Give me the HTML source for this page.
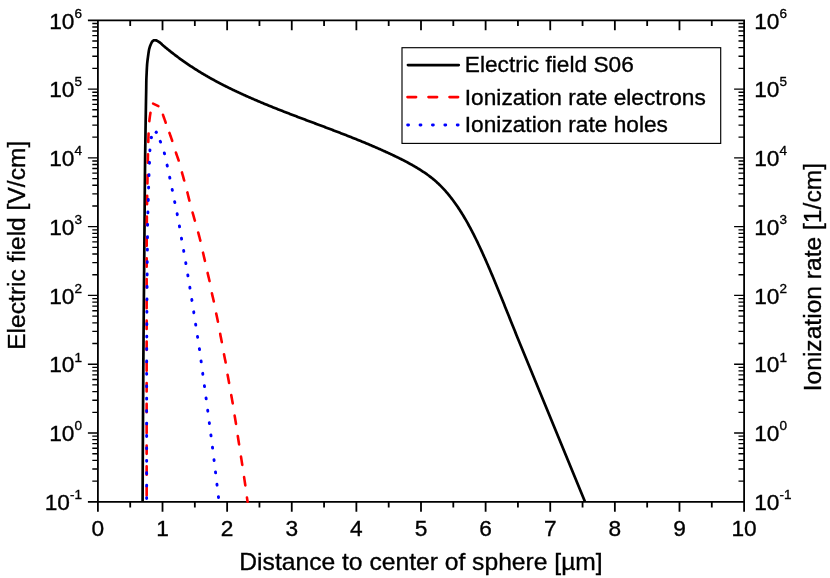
<!DOCTYPE html>
<html><head><meta charset="utf-8"><title>chart</title>
<style>html,body{margin:0;padding:0;background:#fff}svg{display:block}text{font-family:"Liberation Sans",sans-serif;fill:#000}</style>
</head><body>
<svg width="830" height="578" viewBox="0 0 830 578" style="will-change:transform">
<rect width="830" height="578" fill="#fff"/>
<path d="M87.9,20.3 H745.0 M87.9,501.8 H745.0 M97.9,19.400000000000002 V511.8 M744.1,19.400000000000002 V511.8 M130.21,20.3 v5.6 M130.21,501.8 v5.6 M162.52,20.3 v10 M162.52,501.8 v10 M194.83,20.3 v5.6 M194.83,501.8 v5.6 M227.14,20.3 v10 M227.14,501.8 v10 M259.45,20.3 v5.6 M259.45,501.8 v5.6 M291.76,20.3 v10 M291.76,501.8 v10 M324.07,20.3 v5.6 M324.07,501.8 v5.6 M356.38,20.3 v10 M356.38,501.8 v10 M388.69,20.3 v5.6 M388.69,501.8 v5.6 M421.00,20.3 v10 M421.00,501.8 v10 M453.31,20.3 v5.6 M453.31,501.8 v5.6 M485.62,20.3 v10 M485.62,501.8 v10 M517.93,20.3 v5.6 M517.93,501.8 v5.6 M550.24,20.3 v10 M550.24,501.8 v10 M582.55,20.3 v5.6 M582.55,501.8 v5.6 M614.86,20.3 v10 M614.86,501.8 v10 M647.17,20.3 v5.6 M647.17,501.8 v5.6 M679.48,20.3 v10 M679.48,501.8 v10 M711.79,20.3 v5.6 M711.79,501.8 v5.6" fill="none" stroke="#000" stroke-width="1.8"/>
<path d="M92.30000000000001,481.09 H97.9 M738.5,481.09 H744.1 M92.30000000000001,468.98 H97.9 M738.5,468.98 H744.1 M92.30000000000001,460.39 H97.9 M738.5,460.39 H744.1 M92.30000000000001,453.72 H97.9 M738.5,453.72 H744.1 M92.30000000000001,448.27 H97.9 M738.5,448.27 H744.1 M92.30000000000001,443.67 H97.9 M738.5,443.67 H744.1 M92.30000000000001,439.68 H97.9 M738.5,439.68 H744.1 M92.30000000000001,436.16 H97.9 M738.5,436.16 H744.1 M87.9,433.01 H97.9 M734.1,433.01 H744.1 M92.30000000000001,412.31 H97.9 M738.5,412.31 H744.1 M92.30000000000001,400.20 H97.9 M738.5,400.20 H744.1 M92.30000000000001,391.60 H97.9 M738.5,391.60 H744.1 M92.30000000000001,384.94 H97.9 M738.5,384.94 H744.1 M92.30000000000001,379.49 H97.9 M738.5,379.49 H744.1 M92.30000000000001,374.88 H97.9 M738.5,374.88 H744.1 M92.30000000000001,370.89 H97.9 M738.5,370.89 H744.1 M92.30000000000001,367.38 H97.9 M738.5,367.38 H744.1 M87.9,364.23 H97.9 M734.1,364.23 H744.1 M92.30000000000001,343.52 H97.9 M738.5,343.52 H744.1 M92.30000000000001,331.41 H97.9 M738.5,331.41 H744.1 M92.30000000000001,322.82 H97.9 M738.5,322.82 H744.1 M92.30000000000001,316.15 H97.9 M738.5,316.15 H744.1 M92.30000000000001,310.70 H97.9 M738.5,310.70 H744.1 M92.30000000000001,306.10 H97.9 M738.5,306.10 H744.1 M92.30000000000001,302.11 H97.9 M738.5,302.11 H744.1 M92.30000000000001,298.59 H97.9 M738.5,298.59 H744.1 M87.9,295.44 H97.9 M734.1,295.44 H744.1 M92.30000000000001,274.74 H97.9 M738.5,274.74 H744.1 M92.30000000000001,262.62 H97.9 M738.5,262.62 H744.1 M92.30000000000001,254.03 H97.9 M738.5,254.03 H744.1 M92.30000000000001,247.36 H97.9 M738.5,247.36 H744.1 M92.30000000000001,241.92 H97.9 M738.5,241.92 H744.1 M92.30000000000001,237.31 H97.9 M738.5,237.31 H744.1 M92.30000000000001,233.32 H97.9 M738.5,233.32 H744.1 M92.30000000000001,229.80 H97.9 M738.5,229.80 H744.1 M87.9,226.66 H97.9 M734.1,226.66 H744.1 M92.30000000000001,205.95 H97.9 M738.5,205.95 H744.1 M92.30000000000001,193.84 H97.9 M738.5,193.84 H744.1 M92.30000000000001,185.24 H97.9 M738.5,185.24 H744.1 M92.30000000000001,178.58 H97.9 M738.5,178.58 H744.1 M92.30000000000001,173.13 H97.9 M738.5,173.13 H744.1 M92.30000000000001,168.53 H97.9 M738.5,168.53 H744.1 M92.30000000000001,164.54 H97.9 M738.5,164.54 H744.1 M92.30000000000001,161.02 H97.9 M738.5,161.02 H744.1 M87.9,157.87 H97.9 M734.1,157.87 H744.1 M92.30000000000001,137.16 H97.9 M738.5,137.16 H744.1 M92.30000000000001,125.05 H97.9 M738.5,125.05 H744.1 M92.30000000000001,116.46 H97.9 M738.5,116.46 H744.1 M92.30000000000001,109.79 H97.9 M738.5,109.79 H744.1 M92.30000000000001,104.35 H97.9 M738.5,104.35 H744.1 M92.30000000000001,99.74 H97.9 M738.5,99.74 H744.1 M92.30000000000001,95.75 H97.9 M738.5,95.75 H744.1 M92.30000000000001,92.23 H97.9 M738.5,92.23 H744.1 M87.9,89.09 H97.9 M734.1,89.09 H744.1 M92.30000000000001,68.38 H97.9 M738.5,68.38 H744.1 M92.30000000000001,56.27 H97.9 M738.5,56.27 H744.1 M92.30000000000001,47.67 H97.9 M738.5,47.67 H744.1 M92.30000000000001,41.01 H97.9 M738.5,41.01 H744.1 M92.30000000000001,35.56 H97.9 M738.5,35.56 H744.1 M92.30000000000001,30.96 H97.9 M738.5,30.96 H744.1 M92.30000000000001,26.97 H97.9 M738.5,26.97 H744.1 M92.30000000000001,23.45 H97.9 M738.5,23.45 H744.1" fill="none" stroke="#000" stroke-width="1.35"/>
<path d="M142.60,501.80 L142.60,500.85 L142.61,499.91 L142.61,498.96 L142.61,498.01 L142.62,497.06 L142.62,496.12 L142.63,495.17 L142.63,494.22 L142.63,493.27 L142.64,492.33 L142.64,491.38 L142.64,490.43 L142.65,489.49 L142.65,488.54 L142.66,487.59 L142.66,486.64 L142.66,485.70 L142.67,484.75 L142.67,483.80 L142.68,482.85 L142.68,481.91 L142.68,480.96 L142.69,480.01 L142.69,479.07 L142.70,478.12 L142.70,477.17 L142.70,476.22 L142.71,475.28 L142.71,474.33 L142.72,473.38 L142.72,472.43 L142.73,471.49 L142.73,470.54 L142.73,469.59 L142.74,468.65 L142.74,467.70 L142.75,466.75 L142.75,465.80 L142.76,464.86 L142.76,463.91 L142.77,462.96 L142.77,462.01 L142.77,461.07 L142.78,460.12 L142.78,459.17 L142.79,458.23 L142.79,457.28 L142.80,456.33 L142.80,455.38 L142.81,454.44 L142.81,453.49 L142.82,452.54 L142.82,451.60 L142.83,450.65 L142.83,449.70 L142.84,448.75 L142.84,447.81 L142.85,446.86 L142.85,445.91 L142.86,444.96 L142.86,444.02 L142.87,443.07 L142.87,442.12 L142.88,441.18 L142.88,440.23 L142.89,439.28 L142.89,438.33 L142.90,437.39 L142.90,436.44 L142.91,435.49 L142.91,434.54 L142.92,433.60 L142.92,432.65 L142.93,431.70 L142.93,430.76 L142.94,429.81 L142.94,428.86 L142.95,427.91 L142.95,426.97 L142.96,426.02 L142.96,425.07 L142.97,424.12 L142.97,423.18 L142.98,422.23 L142.98,421.28 L142.99,420.34 L143.00,419.39 L143.00,418.44 L143.01,417.49 L143.01,416.55 L143.02,415.60 L143.02,414.65 L143.03,413.70 L143.03,412.76 L143.04,411.81 L143.05,410.86 L143.05,409.92 L143.06,408.97 L143.06,408.02 L143.07,407.07 L143.07,406.13 L143.08,405.18 L143.08,404.23 L143.09,403.29 L143.10,402.34 L143.10,401.39 L143.11,400.44 L143.11,399.50 L143.12,398.55 L143.13,397.60 L143.13,396.65 L143.14,395.71 L143.14,394.76 L143.15,393.81 L143.15,392.87 L143.16,391.92 L143.17,390.97 L143.17,390.02 L143.18,389.08 L143.18,388.13 L143.19,387.18 L143.20,386.23 L143.20,385.29 L143.21,384.34 L143.21,383.39 L143.22,382.45 L143.23,381.50 L143.23,380.55 L143.24,379.60 L143.24,378.66 L143.25,377.71 L143.26,376.76 L143.26,375.81 L143.27,374.87 L143.27,373.92 L143.28,372.97 L143.29,372.03 L143.29,371.08 L143.30,370.13 L143.31,369.18 L143.31,368.24 L143.32,367.29 L143.32,366.34 L143.33,365.40 L143.34,364.45 L143.34,363.50 L143.35,362.55 L143.36,361.61 L143.36,360.66 L143.37,359.71 L143.38,358.76 L143.38,357.82 L143.39,356.87 L143.40,355.92 L143.40,354.98 L143.41,354.03 L143.42,353.08 L143.43,352.13 L143.43,351.19 L143.44,350.24 L143.45,349.29 L143.45,348.34 L143.46,347.40 L143.47,346.45 L143.48,345.50 L143.48,344.56 L143.49,343.61 L143.50,342.66 L143.51,341.71 L143.51,340.77 L143.52,339.82 L143.53,338.87 L143.54,337.93 L143.54,336.98 L143.55,336.03 L143.56,335.08 L143.57,334.14 L143.57,333.19 L143.58,332.24 L143.59,331.29 L143.60,330.35 L143.61,329.40 L143.61,328.45 L143.62,327.51 L143.63,326.56 L143.64,325.61 L143.64,324.66 L143.65,323.72 L143.66,322.77 L143.67,321.82 L143.68,320.87 L143.69,319.93 L143.69,318.98 L143.70,318.03 L143.71,317.09 L143.72,316.14 L143.73,315.19 L143.73,314.24 L143.74,313.30 L143.75,312.35 L143.76,311.40 L143.77,310.46 L143.78,309.51 L143.78,308.56 L143.79,307.61 L143.80,306.67 L143.81,305.72 L143.82,304.77 L143.83,303.82 L143.84,302.88 L143.84,301.93 L143.85,300.98 L143.86,300.04 L143.87,299.09 L143.88,298.14 L143.89,297.19 L143.89,296.25 L143.90,295.30 L143.91,294.35 L143.92,293.41 L143.93,292.46 L143.94,291.51 L143.95,290.56 L143.95,289.62 L143.96,288.67 L143.97,287.72 L143.98,286.77 L143.99,285.83 L144.00,284.88 L144.01,283.93 L144.01,282.99 L144.02,282.04 L144.03,281.09 L144.04,280.14 L144.05,279.20 L144.06,278.25 L144.07,277.30 L144.08,276.35 L144.08,275.41 L144.09,274.46 L144.10,273.51 L144.11,272.57 L144.12,271.62 L144.13,270.67 L144.14,269.72 L144.14,268.78 L144.15,267.83 L144.16,266.88 L144.17,265.94 L144.18,264.99 L144.19,264.04 L144.20,263.09 L144.20,262.15 L144.21,261.20 L144.22,260.25 L144.23,259.30 L144.24,258.36 L144.25,257.41 L144.26,256.46 L144.26,255.52 L144.27,254.57 L144.28,253.62 L144.29,252.67 L144.30,251.73 L144.31,250.78 L144.31,249.83 L144.32,248.89 L144.33,247.94 L144.34,246.99 L144.35,246.04 L144.36,245.10 L144.36,244.15 L144.37,243.20 L144.38,242.25 L144.39,241.31 L144.40,240.36 L144.41,239.41 L144.41,238.47 L144.42,237.52 L144.43,236.57 L144.44,235.62 L144.45,234.68 L144.45,233.73 L144.46,232.78 L144.47,231.83 L144.48,230.89 L144.48,229.94 L144.49,228.99 L144.50,228.05 L144.51,227.10 L144.51,226.15 L144.52,225.20 L144.53,224.26 L144.54,223.31 L144.55,222.36 L144.55,221.42 L144.56,220.47 L144.57,219.52 L144.58,218.57 L144.58,217.63 L144.59,216.68 L144.60,215.73 L144.61,214.78 L144.61,213.84 L144.62,212.89 L144.63,211.94 L144.64,211.00 L144.64,210.05 L144.65,209.10 L144.66,208.15 L144.67,207.21 L144.67,206.26 L144.68,205.31 L144.69,204.36 L144.70,203.42 L144.70,202.47 L144.71,201.52 L144.72,200.58 L144.73,199.63 L144.73,198.68 L144.74,197.73 L144.75,196.79 L144.76,195.84 L144.77,194.89 L144.77,193.95 L144.78,193.00 L144.79,192.05 L144.80,191.10 L144.81,190.16 L144.81,189.21 L144.82,188.26 L144.83,187.31 L144.84,186.37 L144.85,185.42 L144.86,184.47 L144.86,183.53 L144.87,182.58 L144.88,181.63 L144.89,180.68 L144.90,179.74 L144.91,178.79 L144.92,177.84 L144.93,176.89 L144.93,175.95 L144.94,175.00 L144.95,174.05 L144.96,173.11 L144.97,172.16 L144.98,171.21 L144.99,170.26 L145.00,169.32 L145.01,168.37 L145.02,167.42 L145.03,166.48 L145.04,165.53 L145.05,164.58 L145.06,163.63 L145.07,162.69 L145.08,161.74 L145.09,160.79 L145.10,159.85 L145.11,158.90 L145.12,157.95 L145.14,157.00 L145.15,156.06 L145.16,155.11 L145.17,154.16 L145.18,153.21 L145.20,152.27 L145.21,151.32 L145.22,150.37 L145.24,149.43 L145.25,148.48 L145.26,147.53 L145.28,146.58 L145.29,145.64 L145.31,144.69 L145.32,143.74 L145.33,142.80 L145.35,141.85 L145.36,140.90 L145.38,139.95 L145.39,139.01 L145.41,138.06 L145.42,137.11 L145.44,136.17 L145.45,135.22 L145.47,134.27 L145.48,133.32 L145.49,132.38 L145.51,131.43 L145.52,130.48 L145.54,129.54 L145.55,128.59 L145.57,127.64 L145.58,126.69 L145.60,125.75 L145.61,124.80 L145.63,123.85 L145.64,122.91 L145.65,121.96 L145.67,121.01 L145.68,120.06 L145.70,119.12 L145.71,118.17 L145.73,117.22 L145.75,116.28 L145.76,115.33 L145.78,114.38 L145.79,113.43 L145.81,112.49 L145.82,111.54 L145.84,110.59 L145.85,109.65 L145.87,108.70 L145.89,107.75 L145.90,106.80 L145.92,105.86 L145.93,104.91 L145.95,103.96 L145.97,103.02 L145.98,102.07 L146.00,101.12 L146.01,100.17 L146.03,99.23 L146.05,98.28 L146.07,97.33 L146.08,96.39 L146.10,95.44 L146.12,94.49 L146.14,93.54 L146.16,92.60 L146.17,91.65 L146.19,90.70 L146.20,89.76 L146.22,88.81 L146.23,87.86 L146.24,86.91 L146.25,85.97 L146.27,85.02 L146.28,84.07 L146.29,83.13 L146.31,82.18 L146.32,81.23 L146.34,80.28 L146.37,79.34 L146.40,78.39 L146.44,77.44 L146.48,76.50 L146.53,75.55 L146.57,74.61 L146.62,73.66 L146.66,72.71 L146.70,71.77 L146.75,70.82 L146.79,69.87 L146.84,68.93 L146.89,67.98 L146.94,67.03 L147.00,66.09 L147.06,65.14 L147.13,64.20 L147.21,63.26 L147.30,62.32 L147.41,61.37 L147.52,60.43 L147.63,59.49 L147.76,58.55 L147.88,57.61 L148.01,56.67 L148.14,55.73 L148.27,54.80 L148.40,53.85 L148.53,52.91 L148.67,51.97 L148.82,51.03 L148.99,50.10 L149.18,49.18 L149.41,48.27 L149.67,47.36 L149.97,46.45 L150.31,45.56 L150.67,44.68 L151.06,43.81 L151.46,42.96 L151.92,42.09 L152.47,41.33 L153.18,40.71 L154.06,40.25 L154.97,40.23 L155.93,40.35 L156.82,40.61 L157.66,41.09 L158.46,41.59 L159.24,42.13 L160.00,42.70 L160.75,43.28 L161.48,43.88 L162.20,44.69 L162.92,45.30 L163.63,45.91 L164.35,46.51 L165.07,47.11 L165.79,47.70 L166.50,48.29 L167.22,48.88 L167.94,49.46 L168.65,50.04 L169.37,50.61 L170.09,51.18 L170.80,51.75 L171.52,52.32 L172.24,52.88 L172.96,53.43 L173.67,53.99 L174.39,54.54 L175.11,55.08 L175.82,55.63 L176.54,56.17 L177.26,56.70 L177.97,57.23 L178.69,57.76 L179.41,58.29 L180.13,58.81 L180.84,59.33 L181.56,59.85 L182.28,60.36 L182.99,60.87 L183.71,61.37 L184.43,61.88 L185.15,62.38 L185.86,62.87 L186.58,63.37 L187.30,63.86 L188.01,64.34 L188.73,64.83 L189.45,65.31 L190.16,65.79 L190.88,66.26 L191.60,66.74 L192.32,67.20 L193.03,67.67 L193.75,68.13 L194.47,68.60 L195.18,69.05 L195.90,69.51 L196.62,69.96 L197.33,70.41 L198.05,70.86 L198.77,71.30 L199.49,71.74 L200.20,72.18 L200.92,72.62 L201.64,73.05 L202.35,73.48 L203.07,73.91 L203.79,74.34 L204.51,74.76 L205.22,75.18 L205.94,75.60 L206.66,76.02 L207.37,76.43 L208.09,76.84 L208.81,77.25 L209.52,77.66 L210.24,78.06 L210.96,78.46 L211.68,78.86 L212.39,79.26 L213.11,79.66 L213.83,80.05 L214.54,80.44 L215.26,80.83 L215.98,81.22 L216.69,81.60 L217.41,81.99 L218.13,82.37 L218.85,82.75 L219.56,83.12 L220.28,83.50 L221.00,83.87 L221.71,84.24 L222.43,84.61 L223.15,84.98 L223.86,85.35 L224.58,85.71 L225.30,86.07 L226.02,86.43 L226.73,86.79 L227.45,87.15 L228.17,87.50 L228.88,87.86 L229.60,88.21 L230.32,88.56 L231.04,88.91 L231.75,89.26 L232.47,89.60 L233.19,89.95 L233.90,90.29 L234.62,90.63 L235.34,90.97 L236.05,91.31 L236.77,91.65 L237.49,91.98 L238.21,92.32 L238.92,92.65 L239.64,92.98 L240.36,93.31 L241.07,93.64 L241.79,93.97 L242.51,94.30 L243.22,94.62 L243.94,94.95 L244.66,95.27 L245.38,95.60 L246.09,95.92 L246.81,96.24 L247.53,96.56 L248.24,96.87 L248.96,97.19 L249.68,97.51 L250.40,97.82 L251.11,98.14 L251.83,98.45 L252.55,98.76 L253.26,99.07 L253.98,99.38 L254.70,99.69 L255.41,100.00 L256.13,100.31 L256.85,100.61 L257.57,100.92 L258.28,101.22 L259.00,101.53 L259.72,101.83 L260.43,102.13 L261.15,102.43 L261.87,102.73 L262.58,103.03 L263.30,103.33 L264.02,103.63 L264.74,103.92 L265.45,104.22 L266.17,104.51 L266.89,104.81 L267.60,105.10 L268.32,105.40 L269.04,105.69 L269.76,105.98 L270.47,106.27 L271.19,106.56 L271.91,106.85 L272.62,107.14 L273.34,107.42 L274.06,107.71 L274.77,108.00 L275.49,108.28 L276.21,108.57 L276.93,108.85 L277.64,109.14 L278.36,109.42 L279.08,109.70 L279.79,109.99 L280.51,110.27 L281.23,110.55 L281.94,110.83 L282.66,111.11 L283.38,111.39 L284.10,111.67 L284.81,111.95 L285.53,112.23 L286.25,112.50 L286.96,112.78 L287.68,113.06 L288.40,113.33 L289.12,113.61 L289.83,113.89 L290.55,114.16 L291.27,114.44 L291.98,114.71 L292.70,114.98 L293.42,115.26 L294.13,115.53 L294.85,115.80 L295.57,116.08 L296.29,116.35 L297.00,116.62 L297.72,116.89 L298.44,117.17 L299.15,117.44 L299.87,117.71 L300.59,117.98 L301.30,118.25 L302.02,118.52 L302.74,118.79 L303.46,119.06 L304.17,119.33 L304.89,119.60 L305.61,119.87 L306.32,120.14 L307.04,120.41 L307.76,120.68 L308.47,120.95 L309.19,121.22 L309.91,121.48 L310.63,121.75 L311.34,122.02 L312.06,122.29 L312.78,122.56 L313.49,122.83 L314.21,123.10 L314.93,123.37 L315.65,123.63 L316.36,123.90 L317.08,124.17 L317.80,124.44 L318.51,124.71 L319.23,124.98 L319.95,125.25 L320.66,125.52 L321.38,125.79 L322.10,126.05 L322.82,126.32 L323.53,126.59 L324.25,126.86 L324.97,127.13 L325.68,127.40 L326.40,127.67 L327.12,127.94 L327.83,128.21 L328.55,128.49 L329.27,128.76 L329.99,129.03 L330.70,129.30 L331.42,129.57 L332.14,129.84 L332.85,130.12 L333.57,130.39 L334.29,130.66 L335.01,130.94 L335.72,131.21 L336.44,131.48 L337.16,131.76 L337.87,132.03 L338.59,132.31 L339.31,132.58 L340.02,132.86 L340.74,133.14 L341.46,133.41 L342.18,133.69 L342.89,133.97 L343.61,134.25 L344.33,134.53 L345.04,134.80 L345.76,135.08 L346.48,135.36 L347.19,135.64 L347.91,135.93 L348.63,136.21 L349.35,136.49 L350.06,136.77 L350.78,137.06 L351.50,137.34 L352.21,137.63 L352.93,137.91 L353.65,138.20 L354.37,138.48 L355.08,138.77 L355.80,139.06 L356.52,139.35 L357.23,139.64 L357.95,139.93 L358.67,140.22 L359.38,140.51 L360.10,140.80 L360.82,141.09 L361.54,141.39 L362.25,141.68 L362.97,141.98 L363.69,142.27 L364.40,142.57 L365.12,142.87 L365.84,143.17 L366.55,143.46 L367.27,143.76 L367.99,144.07 L368.71,144.37 L369.42,144.67 L370.14,144.97 L370.86,145.28 L371.57,145.58 L372.29,145.89 L373.01,146.20 L373.73,146.51 L374.44,146.82 L375.16,147.13 L375.88,147.44 L376.59,147.75 L377.31,148.06 L378.03,148.38 L378.74,148.69 L379.46,149.01 L380.18,149.32 L380.90,149.64 L381.61,149.96 L382.33,150.28 L383.05,150.61 L383.76,150.93 L384.48,151.25 L385.20,151.58 L385.91,151.90 L386.63,152.23 L387.35,152.56 L388.07,152.89 L388.78,153.22 L389.50,153.55 L390.22,153.89 L390.93,154.22 L391.65,154.56 L392.37,154.89 L393.08,155.23 L393.80,155.57 L394.52,155.91 L395.24,156.26 L395.95,156.60 L396.67,156.95 L397.39,157.30 L398.10,157.65 L398.82,158.00 L399.54,158.35 L400.26,158.71 L400.97,159.07 L401.69,159.43 L402.41,159.80 L403.12,160.16 L403.84,160.53 L404.56,160.90 L405.27,161.28 L405.99,161.65 L406.71,162.03 L407.43,162.42 L408.14,162.80 L408.86,163.19 L409.58,163.58 L410.29,163.98 L411.01,164.38 L411.73,164.78 L412.44,165.19 L413.16,165.60 L413.88,166.01 L414.60,166.43 L415.31,166.85 L416.03,167.28 L416.75,167.71 L417.46,168.14 L418.18,168.58 L418.90,169.02 L419.62,169.46 L420.33,169.92 L421.05,170.37 L421.77,170.83 L422.48,171.30 L423.20,171.77 L423.92,172.24 L424.63,172.73 L425.35,173.22 L426.07,173.72 L426.79,174.22 L427.50,174.73 L428.22,175.25 L428.94,175.78 L429.65,176.32 L430.37,176.86 L431.09,177.42 L431.80,177.98 L432.52,178.56 L433.24,179.15 L433.96,179.74 L434.67,180.35 L435.39,180.97 L436.11,181.60 L436.82,182.24 L437.54,182.90 L438.26,183.56 L438.98,184.24 L439.69,184.94 L440.41,185.65 L441.13,186.37 L441.84,187.10 L442.56,187.85 L443.28,188.61 L443.99,189.38 L444.71,190.17 L445.43,190.97 L446.15,191.79 L446.86,192.62 L447.58,193.47 L448.30,194.32 L449.01,195.20 L449.73,196.08 L450.45,196.99 L451.16,197.90 L451.88,198.83 L452.60,199.78 L453.32,200.74 L454.03,201.71 L454.75,202.70 L455.47,203.71 L456.18,204.73 L456.90,205.77 L457.62,206.82 L458.34,207.88 L459.05,208.97 L459.77,210.06 L460.49,211.18 L461.20,212.30 L461.92,213.45 L462.64,214.61 L463.35,215.79 L464.07,216.98 L464.79,218.19 L465.51,219.41 L466.22,220.65 L466.94,221.91 L467.66,223.19 L468.37,224.48 L469.09,225.78 L469.81,227.11 L470.52,228.45 L471.24,229.81 L471.96,231.18 L472.68,232.57 L473.39,233.97 L474.11,235.39 L474.83,236.83 L475.54,238.27 L476.26,239.74 L476.98,241.21 L477.69,242.70 L478.41,244.21 L479.13,245.73 L479.85,247.25 L480.56,248.80 L481.28,250.35 L482.00,251.91 L482.71,253.49 L483.43,255.08 L484.15,256.68 L484.87,258.29 L485.58,259.91 L486.30,261.54 L487.02,263.18 L487.73,264.82 L488.45,266.48 L489.17,268.15 L489.88,269.82 L490.60,271.50 L491.32,273.19 L492.04,274.89 L492.75,276.60 L493.47,278.31 L494.19,280.03 L494.90,281.75 L495.62,283.48 L496.34,285.22 L497.05,286.96 L497.77,288.71 L498.49,290.46 L499.21,292.21 L499.92,293.97 L500.64,295.74 L501.36,297.51 L502.07,299.28 L502.79,301.05 L503.51,302.82 L504.23,304.60 L504.94,306.38 L505.66,308.17 L506.38,309.95 L507.09,311.73 L507.81,313.52 L508.53,315.30 L509.24,317.09 L509.96,318.87 L510.68,320.66 L511.40,322.44 L512.11,324.23 L512.83,326.01 L513.55,327.79 L514.26,329.57 L514.98,331.34 L515.70,333.12 L516.41,334.89 L517.13,336.66 L517.85,338.42 L518.57,340.18 L519.28,341.94 L520.00,343.69 L585.00,501.80" fill="none" stroke="#000" stroke-width="2.7" stroke-linejoin="round"/>
<path d="M146.65,501.80 L146.65,500.50 L146.65,499.19 L146.65,497.89 L146.65,496.59 L146.65,495.28 L146.65,493.98 L146.65,492.68 L146.65,491.38 L146.65,490.07 L146.65,488.77 L146.65,487.47 L146.65,486.16 L146.65,484.86 L146.65,483.56 L146.65,482.25 L146.65,480.95 L146.65,479.65 L146.65,478.34 L146.65,477.04 L146.65,475.74 L146.65,474.44 L146.65,473.13 L146.65,471.83 L146.65,470.53 L146.65,469.22 L146.65,467.92 L146.65,466.62 L146.65,465.31 L146.65,464.01 L146.65,462.71 L146.65,461.40 L146.65,460.10 L146.65,458.80 L146.65,457.49 L146.65,456.19 L146.65,454.89 L146.65,453.59 L146.65,452.28 L146.65,450.98 L146.65,449.68 L146.65,448.37 L146.65,447.07 L146.65,445.77 L146.65,444.46 L146.65,443.16 L146.65,441.86 L146.65,440.55 L146.65,439.25 L146.65,437.95 L146.65,436.65 L146.65,435.34 L146.65,434.04 L146.65,432.74 L146.65,431.43 L146.65,430.13 L146.65,428.83 L146.65,427.52 L146.65,426.22 L146.65,424.92 L146.65,423.61 L146.65,422.31 L146.65,421.01 L146.65,419.71 L146.65,418.40 L146.65,417.10 L146.65,415.80 L146.65,414.49 L146.65,413.19 L146.65,411.89 L146.65,410.58 L146.65,409.28 L146.65,407.98 L146.65,406.67 L146.65,405.37 L146.65,404.07 L146.65,402.76 L146.65,401.46 L146.65,400.16 L146.65,398.86 L146.65,397.55 L146.65,396.25 L146.65,394.95 L146.65,393.64 L146.65,392.34 L146.65,391.04 L146.65,389.73 L146.65,388.43 L146.65,387.13 L146.65,385.82 L146.65,384.52 L146.65,383.22 L146.65,381.92 L146.65,380.61 L146.65,379.31 L146.65,378.01 L146.65,376.70 L146.65,375.40 L146.65,374.10 L146.65,372.79 L146.65,371.49 L146.65,370.19 L146.65,368.88 L146.65,367.58 L146.65,366.28 L146.65,364.98 L146.65,363.67 L146.65,362.37 L146.65,361.07 L146.65,359.76 L146.65,358.46 L146.65,357.16 L146.65,355.85 L146.65,354.55 L146.65,353.25 L146.65,351.94 L146.65,350.64 L146.65,349.34 L146.65,348.04 L146.65,346.73 L146.65,345.43 L146.65,344.13 L146.65,342.82 L146.65,341.52 L146.65,340.22 L146.65,338.91 L146.65,337.61 L146.65,336.31 L146.65,335.00 L146.65,333.70 L146.65,332.40 L146.65,331.09 L146.65,329.79 L146.65,328.49 L146.65,327.19 L146.65,325.88 L146.65,324.58 L146.65,323.28 L146.65,321.97 L146.65,320.67 L146.65,319.37 L146.65,318.06 L146.65,316.76 L146.65,315.46 L146.65,314.15 L146.65,312.85 L146.65,311.55 L146.65,310.25 L146.65,308.94 L146.65,307.64 L146.65,306.34 L146.65,305.03 L146.65,303.73 L146.65,302.43 L146.65,301.12 L146.65,299.82 L146.65,298.52 L146.65,297.21 L146.65,295.91 L146.65,294.61 L146.65,293.31 L146.65,292.00 L146.65,290.70 L146.65,289.40 L146.65,288.09 L146.65,286.79 L146.65,285.49 L146.65,284.18 L146.65,282.88 L146.65,281.58 L146.66,280.27 L146.66,278.97 L146.66,277.67 L146.66,276.36 L146.66,275.06 L146.66,273.76 L146.66,272.46 L146.66,271.15 L146.66,269.85 L146.66,268.55 L146.66,267.24 L146.67,265.94 L146.67,264.64 L146.67,263.33 L146.67,262.03 L146.67,260.73 L146.67,259.42 L146.67,258.12 L146.68,256.82 L146.68,255.52 L146.68,254.21 L146.68,252.91 L146.68,251.61 L146.68,250.30 L146.69,249.00 L146.69,247.70 L146.69,246.39 L146.69,245.09 L146.69,243.79 L146.70,242.48 L146.70,241.18 L146.70,239.88 L146.70,238.58 L146.71,237.27 L146.71,235.97 L146.72,234.67 L146.73,233.36 L146.74,232.06 L146.75,230.76 L146.76,229.45 L146.77,228.15 L146.78,226.85 L146.79,225.54 L146.80,224.24 L146.82,222.94 L146.83,221.64 L146.84,220.33 L146.86,219.03 L146.87,217.73 L146.89,216.42 L146.90,215.12 L146.91,213.82 L146.93,212.51 L146.94,211.21 L146.96,209.91 L146.98,208.61 L146.99,207.30 L147.01,206.00 L147.03,204.70 L147.05,203.39 L147.07,202.09 L147.09,200.79 L147.11,199.48 L147.13,198.18 L147.15,196.88 L147.17,195.58 L147.20,194.27 L147.22,192.97 L147.25,191.67 L147.27,190.36 L147.30,189.06 L147.33,187.76 L147.35,186.46 L147.38,185.15 L147.40,183.85 L147.43,182.55 L147.46,181.24 L147.48,179.94 L147.51,178.64 L147.53,177.34 L147.56,176.03 L147.58,174.73 L147.60,173.43 L147.63,172.12 L147.65,170.82 L147.67,169.52 L147.70,168.22 L147.72,166.91 L147.75,165.61 L147.77,164.31 L147.80,163.00 L147.82,161.70 L147.85,160.40 L147.88,159.10 L147.90,157.79 L147.93,156.49 L147.96,155.19 L147.99,153.88 L148.02,152.58 L148.04,151.28 L148.07,149.98 L148.10,148.67 L148.13,147.37 L148.16,146.07 L148.20,144.76 L148.23,143.46 L148.27,142.16 L148.31,140.86 L148.35,139.56 L148.39,138.25 L148.44,136.95 L148.49,135.65 L148.54,134.35 L148.59,133.04 L148.65,131.74 L148.72,130.44 L148.79,129.13 L148.86,127.83 L148.94,126.53 L149.02,125.23 L149.11,123.93 L149.21,122.64 L149.32,121.34 L149.44,120.05 L149.59,118.75 L149.76,117.46 L149.94,116.17 L150.14,114.88 L150.34,113.59 L150.55,112.30" fill="none" stroke="#f00" stroke-width="2.6" stroke-linecap="round" stroke-dasharray="8.4 12.4" stroke-dashoffset="14.45"/>
<path d="M153.1,103.65 L158.4,106.1" fill="none" stroke="#f00" stroke-width="2.6" stroke-linecap="round"/>
<path d="M162.75,114.20 L163.08,115.14 L163.40,116.08 L163.73,117.02 L164.06,117.96 L164.39,118.90 L164.72,119.84 L165.05,120.78 L165.39,121.72 L165.72,122.66 L166.06,123.60 L166.39,124.53 L166.74,125.47 L167.08,126.41 L167.42,127.34 L167.77,128.28 L168.11,129.21 L168.45,130.15 L168.80,131.08 L169.13,132.02 L169.47,132.96 L169.80,133.90 L170.14,134.83 L170.47,135.77 L170.80,136.71 L171.12,137.66 L171.45,138.60 L171.77,139.54 L172.09,140.48 L172.41,141.43 L172.73,142.37 L173.04,143.32 L173.34,144.27 L173.64,145.22 L173.94,146.17 L174.23,147.12 L174.52,148.07 L174.81,149.03 L175.11,149.98 L175.40,150.93 L175.70,151.88 L176.01,152.83 L176.32,153.77 L176.65,154.72 L176.98,155.66 L177.31,156.60 L177.64,157.54 L177.97,158.48 L178.30,159.42 L178.62,160.36 L178.93,161.31 L179.23,162.26 L179.51,163.21 L179.78,164.17 L180.05,165.13 L180.30,166.09 L180.56,167.05 L180.81,168.02 L181.05,168.98 L181.30,169.95 L181.55,170.92 L181.81,171.88 L182.07,172.84 L182.33,173.80 L182.59,174.76 L182.86,175.72 L183.13,176.68 L183.40,177.64 L183.66,178.60 L183.93,179.56 L184.20,180.52 L184.46,181.48 L184.72,182.44 L184.98,183.40 L185.24,184.37 L185.50,185.33 L185.75,186.29 L186.01,187.25 L186.27,188.22 L186.52,189.18 L186.77,190.14 L187.02,191.11 L187.27,192.07 L187.52,193.04 L187.76,194.01 L188.00,194.97 L188.24,195.94 L188.47,196.91 L188.71,197.87 L188.95,198.84 L189.19,199.81 L189.44,200.77 L189.69,201.74 L189.94,202.70 L190.19,203.67 L190.45,204.63 L190.70,205.59 L190.96,206.55 L191.22,207.52 L191.48,208.48 L191.74,209.44 L192.01,210.40 L192.27,211.36 L192.53,212.32 L192.80,213.28 L193.07,214.24 L193.33,215.20 L193.60,216.16 L193.88,217.12 L194.15,218.08 L194.42,219.03 L194.69,219.99 L194.96,220.95 L195.23,221.91 L195.50,222.87 L195.77,223.83 L196.05,224.79 L196.32,225.74 L196.59,226.70 L196.87,227.66 L197.14,228.62 L197.41,229.58 L197.67,230.54 L197.94,231.50 L198.20,232.46 L198.46,233.42 L198.72,234.38 L198.98,235.35 L199.23,236.31 L199.49,237.27 L199.74,238.24 L199.98,239.20 L200.23,240.17 L200.46,241.14 L200.70,242.10 L200.92,243.07 L201.14,244.05 L201.36,245.02 L201.57,245.99 L201.78,246.96 L201.99,247.94 L202.20,248.91 L202.41,249.89 L202.62,250.86 L202.84,251.83 L203.06,252.80 L203.28,253.78 L203.51,254.75 L203.73,255.72 L203.96,256.69 L204.18,257.66 L204.41,258.63 L204.63,259.60 L204.86,260.57 L205.08,261.54 L205.30,262.51 L205.52,263.48 L205.74,264.46 L205.95,265.43 L206.16,266.40 L206.38,267.38 L206.59,268.35 L206.80,269.32 L207.02,270.29 L207.23,271.27 L207.45,272.24 L207.67,273.21 L207.90,274.18 L208.12,275.15 L208.36,276.12 L208.59,277.09 L208.82,278.06 L209.05,279.03 L209.28,280.00 L209.51,280.97 L209.73,281.94 L209.94,282.91 L210.14,283.89 L210.34,284.86 L210.53,285.84 L210.71,286.82 L210.89,287.80 L211.07,288.78 L211.25,289.76 L211.44,290.74 L211.62,291.72 L211.81,292.70 L212.02,293.67 L212.22,294.65 L212.44,295.62 L212.67,296.59 L212.90,297.56 L213.13,298.53 L213.36,299.50 L213.59,300.47 L213.81,301.44 L214.03,302.41 L214.24,303.38 L214.44,304.36 L214.64,305.33 L214.83,306.31 L215.02,307.29 L215.21,308.27 L215.40,309.25 L215.58,310.23 L215.77,311.20 L215.96,312.18 L216.15,313.16 L216.35,314.14 L216.55,315.11 L216.75,316.09 L216.96,317.06 L217.17,318.04 L217.38,319.01 L217.58,319.99 L217.79,320.96 L217.99,321.94 L218.18,322.91 L218.38,323.89 L218.56,324.87 L218.74,325.85 L218.92,326.83 L219.10,327.81 L219.28,328.79 L219.45,329.77 L219.63,330.75 L219.80,331.73 L219.98,332.71 L220.16,333.69 L220.35,334.67 L220.53,335.65 L220.72,336.63 L220.91,337.61 L221.10,338.58 L221.29,339.56 L221.48,340.54 L221.67,341.52 L221.86,342.50 L222.04,343.47 L222.23,344.45 L222.41,345.43 L222.59,346.41 L222.77,347.39 L222.95,348.37 L223.12,349.35 L223.30,350.33 L223.48,351.31 L223.65,352.30 L223.83,353.27 L224.02,354.25 L224.20,355.23 L224.39,356.21 L224.58,357.19 L224.78,358.17 L224.98,359.14 L225.17,360.12 L225.37,361.10 L225.56,362.08 L225.74,363.05 L225.92,364.03 L226.09,365.02 L226.25,366.00 L226.40,366.98 L226.55,367.97 L226.70,368.95 L226.85,369.94 L226.99,370.92 L227.14,371.91 L227.29,372.89 L227.45,373.88 L227.61,374.86 L227.78,375.84 L227.96,376.82 L228.14,377.80 L228.32,378.78 L228.51,379.76 L228.69,380.74 L228.88,381.72 L229.06,382.70 L229.24,383.68 L229.42,384.66 L229.59,385.64 L229.77,386.62 L229.94,387.60 L230.11,388.58 L230.29,389.56 L230.46,390.54 L230.63,391.53 L230.80,392.51 L230.97,393.49 L231.15,394.47 L231.32,395.45 L231.50,396.43 L231.67,397.41 L231.85,398.39 L232.02,399.37 L232.19,400.35 L232.36,401.34 L232.53,402.32 L232.70,403.30 L232.86,404.28 L233.02,405.27 L233.18,406.25 L233.33,407.23 L233.48,408.22 L233.63,409.20 L233.78,410.19 L233.93,411.17 L234.09,412.16 L234.24,413.14 L234.39,414.13 L234.55,415.11 L234.71,416.09 L234.87,417.08 L235.04,418.06 L235.20,419.04 L235.37,420.02 L235.53,421.01 L235.70,421.99 L235.86,422.97 L236.01,423.96 L236.17,424.94 L236.32,425.93 L236.46,426.91 L236.61,427.90 L236.75,428.88 L236.89,429.87 L237.04,430.85 L237.18,431.84 L237.32,432.83 L237.46,433.81 L237.61,434.80 L237.76,435.78 L237.91,436.77 L238.06,437.75 L238.21,438.74 L238.36,439.72 L238.52,440.71 L238.67,441.69 L238.82,442.68 L238.98,443.66 L239.13,444.64 L239.28,445.63 L239.44,446.61 L239.59,447.60 L239.74,448.58 L239.90,449.57 L240.05,450.55 L240.20,451.53 L240.36,452.52 L240.51,453.50 L240.67,454.49 L240.82,455.47 L240.97,456.46 L241.12,457.44 L241.28,458.43 L241.43,459.41 L241.58,460.39 L241.73,461.38 L241.88,462.36 L242.04,463.35 L242.19,464.33 L242.34,465.32 L242.49,466.30 L242.63,467.29 L242.78,468.27 L242.93,469.26 L243.08,470.24 L243.22,471.23 L243.37,472.21 L243.51,473.20 L243.66,474.19 L243.80,475.17 L243.95,476.16 L244.10,477.14 L244.24,478.13 L244.39,479.11 L244.54,480.10 L244.68,481.08 L244.83,482.07 L244.97,483.05 L245.12,484.04 L245.26,485.03 L245.40,486.01 L245.54,487.00 L245.68,487.99 L245.81,488.97 L245.94,489.96 L246.07,490.95 L246.20,491.94 L246.33,492.92 L246.46,493.91 L246.60,494.90 L246.73,495.89 L246.87,496.87 L247.01,497.86 L247.15,498.84 L247.30,499.83 L247.45,500.82 L247.60,501.80" fill="none" stroke="#f00" stroke-width="2.6" stroke-linecap="round" stroke-dasharray="8.4 3000" stroke-dashoffset="-0.6"/>
<path d="M167.77,128.28 L168.11,129.21 L168.45,130.15 L168.80,131.08 L169.13,132.02 L169.47,132.96 L169.80,133.90 L170.14,134.83 L170.47,135.77 L170.80,136.71 L171.12,137.66 L171.45,138.60 L171.77,139.54 L172.09,140.48 L172.41,141.43 L172.73,142.37 L173.04,143.32 L173.34,144.27 L173.64,145.22 L173.94,146.17 L174.23,147.12 L174.52,148.07 L174.81,149.03 L175.11,149.98 L175.40,150.93 L175.70,151.88 L176.01,152.83 L176.32,153.77 L176.65,154.72 L176.98,155.66 L177.31,156.60 L177.64,157.54 L177.97,158.48 L178.30,159.42 L178.62,160.36 L178.93,161.31 L179.23,162.26 L179.51,163.21 L179.78,164.17 L180.05,165.13 L180.30,166.09 L180.56,167.05 L180.81,168.02 L181.05,168.98 L181.30,169.95 L181.55,170.92 L181.81,171.88 L182.07,172.84 L182.33,173.80 L182.59,174.76 L182.86,175.72 L183.13,176.68 L183.40,177.64 L183.66,178.60 L183.93,179.56 L184.20,180.52 L184.46,181.48 L184.72,182.44 L184.98,183.40 L185.24,184.37 L185.50,185.33 L185.75,186.29 L186.01,187.25 L186.27,188.22 L186.52,189.18 L186.77,190.14 L187.02,191.11 L187.27,192.07 L187.52,193.04 L187.76,194.01 L188.00,194.97 L188.24,195.94 L188.47,196.91 L188.71,197.87 L188.95,198.84 L189.19,199.81 L189.44,200.77 L189.69,201.74 L189.94,202.70 L190.19,203.67 L190.45,204.63 L190.70,205.59 L190.96,206.55 L191.22,207.52 L191.48,208.48 L191.74,209.44 L192.01,210.40 L192.27,211.36 L192.53,212.32 L192.80,213.28 L193.07,214.24 L193.33,215.20 L193.60,216.16 L193.88,217.12 L194.15,218.08 L194.42,219.03 L194.69,219.99 L194.96,220.95 L195.23,221.91 L195.50,222.87 L195.77,223.83 L196.05,224.79 L196.32,225.74 L196.59,226.70 L196.87,227.66 L197.14,228.62 L197.41,229.58 L197.67,230.54 L197.94,231.50 L198.20,232.46 L198.46,233.42 L198.72,234.38 L198.98,235.35 L199.23,236.31 L199.49,237.27 L199.74,238.24 L199.98,239.20 L200.23,240.17 L200.46,241.14 L200.70,242.10 L200.92,243.07 L201.14,244.05 L201.36,245.02 L201.57,245.99 L201.78,246.96 L201.99,247.94 L202.20,248.91 L202.41,249.89 L202.62,250.86 L202.84,251.83 L203.06,252.80 L203.28,253.78 L203.51,254.75 L203.73,255.72 L203.96,256.69 L204.18,257.66 L204.41,258.63 L204.63,259.60 L204.86,260.57 L205.08,261.54 L205.30,262.51 L205.52,263.48 L205.74,264.46 L205.95,265.43 L206.16,266.40 L206.38,267.38 L206.59,268.35 L206.80,269.32 L207.02,270.29 L207.23,271.27 L207.45,272.24 L207.67,273.21 L207.90,274.18 L208.12,275.15 L208.36,276.12 L208.59,277.09 L208.82,278.06 L209.05,279.03 L209.28,280.00 L209.51,280.97 L209.73,281.94 L209.94,282.91 L210.14,283.89 L210.34,284.86 L210.53,285.84 L210.71,286.82 L210.89,287.80 L211.07,288.78 L211.25,289.76 L211.44,290.74 L211.62,291.72 L211.81,292.70 L212.02,293.67 L212.22,294.65 L212.44,295.62 L212.67,296.59 L212.90,297.56 L213.13,298.53 L213.36,299.50 L213.59,300.47 L213.81,301.44 L214.03,302.41 L214.24,303.38 L214.44,304.36 L214.64,305.33 L214.83,306.31 L215.02,307.29 L215.21,308.27 L215.40,309.25 L215.58,310.23 L215.77,311.20 L215.96,312.18 L216.15,313.16 L216.35,314.14 L216.55,315.11 L216.75,316.09 L216.96,317.06 L217.17,318.04 L217.38,319.01 L217.58,319.99 L217.79,320.96 L217.99,321.94 L218.18,322.91 L218.38,323.89 L218.56,324.87 L218.74,325.85 L218.92,326.83 L219.10,327.81 L219.28,328.79 L219.45,329.77 L219.63,330.75 L219.80,331.73 L219.98,332.71 L220.16,333.69 L220.35,334.67 L220.53,335.65 L220.72,336.63 L220.91,337.61 L221.10,338.58 L221.29,339.56 L221.48,340.54 L221.67,341.52 L221.86,342.50 L222.04,343.47 L222.23,344.45 L222.41,345.43 L222.59,346.41 L222.77,347.39 L222.95,348.37 L223.12,349.35 L223.30,350.33 L223.48,351.31 L223.65,352.30 L223.83,353.27 L224.02,354.25 L224.20,355.23 L224.39,356.21 L224.58,357.19 L224.78,358.17 L224.98,359.14 L225.17,360.12 L225.37,361.10 L225.56,362.08 L225.74,363.05 L225.92,364.03 L226.09,365.02 L226.25,366.00 L226.40,366.98 L226.55,367.97 L226.70,368.95 L226.85,369.94 L226.99,370.92 L227.14,371.91 L227.29,372.89 L227.45,373.88 L227.61,374.86 L227.78,375.84 L227.96,376.82 L228.14,377.80 L228.32,378.78 L228.51,379.76 L228.69,380.74 L228.88,381.72 L229.06,382.70 L229.24,383.68 L229.42,384.66 L229.59,385.64 L229.77,386.62 L229.94,387.60 L230.11,388.58 L230.29,389.56 L230.46,390.54 L230.63,391.53 L230.80,392.51 L230.97,393.49 L231.15,394.47 L231.32,395.45 L231.50,396.43 L231.67,397.41 L231.85,398.39 L232.02,399.37 L232.19,400.35 L232.36,401.34 L232.53,402.32 L232.70,403.30 L232.86,404.28 L233.02,405.27 L233.18,406.25 L233.33,407.23 L233.48,408.22 L233.63,409.20 L233.78,410.19 L233.93,411.17 L234.09,412.16 L234.24,413.14 L234.39,414.13 L234.55,415.11 L234.71,416.09 L234.87,417.08 L235.04,418.06 L235.20,419.04 L235.37,420.02 L235.53,421.01 L235.70,421.99 L235.86,422.97 L236.01,423.96 L236.17,424.94 L236.32,425.93 L236.46,426.91 L236.61,427.90 L236.75,428.88 L236.89,429.87 L237.04,430.85 L237.18,431.84 L237.32,432.83 L237.46,433.81 L237.61,434.80 L237.76,435.78 L237.91,436.77 L238.06,437.75 L238.21,438.74 L238.36,439.72 L238.52,440.71 L238.67,441.69 L238.82,442.68 L238.98,443.66 L239.13,444.64 L239.28,445.63 L239.44,446.61 L239.59,447.60 L239.74,448.58 L239.90,449.57 L240.05,450.55 L240.20,451.53 L240.36,452.52 L240.51,453.50 L240.67,454.49 L240.82,455.47 L240.97,456.46 L241.12,457.44 L241.28,458.43 L241.43,459.41 L241.58,460.39 L241.73,461.38 L241.88,462.36 L242.04,463.35 L242.19,464.33 L242.34,465.32 L242.49,466.30 L242.63,467.29 L242.78,468.27 L242.93,469.26 L243.08,470.24 L243.22,471.23 L243.37,472.21 L243.51,473.20 L243.66,474.19 L243.80,475.17 L243.95,476.16 L244.10,477.14 L244.24,478.13 L244.39,479.11 L244.54,480.10 L244.68,481.08 L244.83,482.07 L244.97,483.05 L245.12,484.04 L245.26,485.03 L245.40,486.01 L245.54,487.00 L245.68,487.99 L245.81,488.97 L245.94,489.96 L246.07,490.95 L246.20,491.94 L246.33,492.92 L246.46,493.91 L246.60,494.90 L246.73,495.89 L246.87,496.87 L247.01,497.86 L247.15,498.84 L247.30,499.83 L247.45,500.82 L247.60,501.80" fill="none" stroke="#f00" stroke-width="2.6" stroke-linecap="round" stroke-dasharray="8.4 12.35" stroke-dashoffset="15.88"/>
<path d="M146.65,501.80 L146.65,500.62 L146.65,499.43 L146.65,498.25 L146.65,497.07 L146.65,495.88 L146.65,494.70 L146.65,493.52 L146.65,492.33 L146.65,491.15 L146.65,489.97 L146.65,488.78 L146.65,487.60 L146.65,486.42 L146.65,485.23 L146.65,484.05 L146.65,482.87 L146.65,481.68 L146.65,480.50 L146.65,479.31 L146.65,478.13 L146.65,476.95 L146.65,475.76 L146.65,474.58 L146.65,473.40 L146.65,472.21 L146.65,471.03 L146.65,469.85 L146.65,468.66 L146.65,467.48 L146.65,466.30 L146.65,465.11 L146.65,463.93 L146.65,462.75 L146.65,461.56 L146.65,460.38 L146.65,459.20 L146.65,458.01 L146.65,456.83 L146.65,455.65 L146.65,454.46 L146.65,453.28 L146.65,452.10 L146.65,450.91 L146.65,449.73 L146.65,448.55 L146.65,447.36 L146.65,446.18 L146.65,445.00 L146.65,443.81 L146.65,442.63 L146.65,441.45 L146.65,440.26 L146.65,439.08 L146.65,437.89 L146.65,436.71 L146.65,435.53 L146.65,434.34 L146.65,433.16 L146.65,431.98 L146.65,430.79 L146.65,429.61 L146.65,428.43 L146.65,427.24 L146.65,426.06 L146.65,424.88 L146.65,423.69 L146.65,422.51 L146.65,421.33 L146.65,420.14 L146.65,418.96 L146.65,417.78 L146.65,416.59 L146.65,415.41 L146.65,414.23 L146.65,413.04 L146.65,411.86 L146.65,410.68 L146.65,409.49 L146.65,408.31 L146.65,407.13 L146.65,405.94 L146.65,404.76 L146.65,403.58 L146.65,402.39 L146.65,401.21 L146.65,400.03 L146.65,398.84 L146.65,397.66 L146.65,396.48 L146.65,395.29 L146.65,394.11 L146.65,392.92 L146.65,391.74 L146.65,390.56 L146.65,389.37 L146.65,388.19 L146.65,387.01 L146.65,385.82 L146.65,384.64 L146.65,383.46 L146.65,382.27 L146.65,381.09 L146.65,379.91 L146.65,378.72 L146.65,377.54 L146.65,376.36 L146.65,375.17 L146.65,373.99 L146.65,372.81 L146.65,371.62 L146.65,370.44 L146.65,369.26 L146.65,368.07 L146.65,366.89 L146.66,365.71 L146.66,364.52 L146.66,363.34 L146.66,362.16 L146.67,360.97 L146.67,359.79 L146.68,358.61 L146.68,357.42 L146.68,356.24 L146.69,355.06 L146.69,353.87 L146.70,352.69 L146.70,351.50 L146.71,350.32 L146.71,349.14 L146.72,347.95 L146.72,346.77 L146.73,345.59 L146.73,344.40 L146.74,343.22 L146.74,342.04 L146.75,340.85 L146.76,339.67 L146.76,338.49 L146.77,337.30 L146.77,336.12 L146.78,334.94 L146.78,333.75 L146.79,332.57 L146.79,331.39 L146.80,330.20 L146.80,329.02 L146.81,327.84 L146.82,326.65 L146.82,325.47 L146.83,324.29 L146.83,323.10 L146.84,321.92 L146.84,320.74 L146.85,319.55 L146.86,318.37 L146.86,317.19 L146.87,316.00 L146.87,314.82 L146.88,313.64 L146.89,312.45 L146.89,311.27 L146.90,310.09 L146.91,308.90 L146.92,307.72 L146.92,306.54 L146.93,305.35 L146.94,304.17 L146.94,302.99 L146.95,301.80 L146.96,300.62 L146.97,299.43 L146.97,298.25 L146.98,297.07 L146.99,295.88 L147.00,294.70 L147.00,293.52 L147.01,292.33 L147.02,291.15 L147.03,289.97 L147.04,288.78 L147.05,287.60 L147.05,286.42 L147.06,285.23 L147.07,284.05 L147.08,282.87 L147.09,281.68 L147.10,280.50 L147.11,279.32 L147.11,278.13 L147.12,276.95 L147.13,275.77 L147.14,274.58 L147.15,273.40 L147.16,272.22 L147.17,271.03 L147.18,269.85 L147.19,268.67 L147.21,267.48 L147.22,266.30 L147.23,265.12 L147.24,263.93 L147.25,262.75 L147.26,261.57 L147.27,260.38 L147.29,259.20 L147.30,258.02 L147.31,256.83 L147.32,255.65 L147.33,254.47 L147.35,253.28 L147.36,252.10 L147.37,250.92 L147.38,249.73 L147.39,248.55 L147.40,247.37 L147.42,246.18 L147.43,245.00 L147.44,243.82 L147.45,242.63 L147.46,241.45 L147.47,240.27 L147.48,239.08 L147.49,237.90 L147.50,236.72 L147.51,235.53 L147.52,234.35 L147.53,233.17 L147.54,231.98 L147.55,230.80 L147.55,229.62 L147.56,228.43 L147.57,227.25 L147.59,226.06 L147.60,224.88 L147.62,223.70 L147.64,222.52 L147.66,221.33 L147.69,220.15 L147.72,218.97 L147.75,217.78 L147.78,216.60 L147.81,215.42 L147.85,214.23 L147.88,213.05 L147.91,211.87 L147.95,210.68 L147.98,209.50 L148.02,208.32 L148.06,207.14 L148.11,205.95 L148.15,204.77 L148.19,203.59 L148.22,202.41 L148.26,201.22 L148.30,200.04 L148.33,198.86 L148.36,197.67 L148.39,196.49 L148.41,195.31 L148.44,194.12 L148.47,192.94 L148.49,191.76 L148.52,190.57 L148.55,189.39 L148.58,188.21 L148.61,187.03 L148.64,185.84 L148.68,184.66 L148.71,183.48 L148.75,182.29 L148.79,181.11 L148.83,179.93 L148.87,178.75 L148.91,177.56 L148.95,176.38 L148.99,175.20 L149.03,174.02 L149.08,172.83 L149.12,171.65 L149.17,170.47 L149.22,169.29 L149.27,168.10 L149.32,166.92 L149.37,165.74 L149.42,164.56 L149.47,163.37 L149.51,162.19 L149.55,161.01 L149.59,159.82 L149.63,158.64 L149.67,157.46 L149.70,156.28 L149.74,155.09 L149.78,153.91 L149.82,152.73 L149.87,151.55 L149.92,150.36 L149.98,149.18 L150.05,148.00" fill="none" stroke="#00f" stroke-width="2.9" stroke-linecap="round" stroke-dasharray="0.9 11.52" stroke-dashoffset="9.15"/>
<ellipse cx="151.35" cy="137.45" rx="1.6" ry="1.75" fill="#00f"/>
<ellipse cx="156.25" cy="132.25" rx="1.6" ry="1.75" fill="#00f"/>
<path d="M159.90,140.35 L160.22,141.21 L160.54,142.07 L160.85,142.94 L161.17,143.80 L161.50,144.66 L161.82,145.53 L162.14,146.39 L162.45,147.25 L162.76,148.12 L163.07,148.99 L163.36,149.86 L163.65,150.73 L163.92,151.61 L164.18,152.48 L164.43,153.36 L164.66,154.25 L164.89,155.14 L165.11,156.03 L165.32,156.92 L165.52,157.82 L165.72,158.72 L165.92,159.62 L166.11,160.52 L166.31,161.42 L166.50,162.32 L166.69,163.22 L166.88,164.12 L167.08,165.01 L167.28,165.91 L167.47,166.81 L167.67,167.71 L167.86,168.60 L168.06,169.50 L168.25,170.40 L168.44,171.30 L168.63,172.20 L168.82,173.10 L169.01,174.00 L169.20,174.90 L169.39,175.80 L169.57,176.70 L169.76,177.60 L169.95,178.49 L170.14,179.39 L170.32,180.29 L170.51,181.19 L170.69,182.09 L170.88,182.99 L171.06,183.89 L171.24,184.80 L171.43,185.70 L171.61,186.60 L171.79,187.50 L171.98,188.40 L172.16,189.30 L172.34,190.20 L172.53,191.10 L172.71,192.00 L172.89,192.90 L173.07,193.80 L173.25,194.70 L173.43,195.60 L173.61,196.50 L173.79,197.40 L173.97,198.31 L174.16,199.21 L174.34,200.11 L174.52,201.01 L174.70,201.91 L174.89,202.81 L175.07,203.71 L175.26,204.61 L175.45,205.51 L175.63,206.41 L175.82,207.31 L176.01,208.21 L176.19,209.11 L176.38,210.01 L176.56,210.91 L176.74,211.81 L176.92,212.71 L177.10,213.61 L177.28,214.51 L177.45,215.41 L177.63,216.32 L177.80,217.22 L177.98,218.12 L178.15,219.02 L178.32,219.93 L178.49,220.83 L178.66,221.73 L178.82,222.64 L178.99,223.54 L179.15,224.44 L179.31,225.35 L179.47,226.25 L179.63,227.16 L179.79,228.06 L179.94,228.97 L180.09,229.88 L180.24,230.78 L180.38,231.69 L180.53,232.60 L180.68,233.50 L180.82,234.41 L180.97,235.32 L181.12,236.23 L181.27,237.13 L181.42,238.04 L181.58,238.94 L181.73,239.85 L181.89,240.75 L182.05,241.66 L182.22,242.56 L182.38,243.47 L182.54,244.37 L182.71,245.28 L182.87,246.18 L183.04,247.08 L183.20,247.99 L183.36,248.89 L183.52,249.80 L183.68,250.70 L183.84,251.61 L184.00,252.51 L184.16,253.42 L184.31,254.32 L184.47,255.23 L184.63,256.13 L184.78,257.04 L184.94,257.94 L185.09,258.85 L185.25,259.76 L185.40,260.66 L185.56,261.57 L185.71,262.47 L185.86,263.38 L186.02,264.29 L186.17,265.19 L186.33,266.10 L186.48,267.00 L186.63,267.91 L186.78,268.82 L186.94,269.72 L187.09,270.63 L187.24,271.53 L187.39,272.44 L187.54,273.35 L187.69,274.25 L187.84,275.16 L187.99,276.07 L188.14,276.97 L188.29,277.88 L188.44,278.79 L188.59,279.69 L188.74,280.60 L188.89,281.51 L189.04,282.41 L189.19,283.32 L189.33,284.23 L189.48,285.13 L189.63,286.04 L189.78,286.95 L189.92,287.85 L190.07,288.76 L190.22,289.67 L190.36,290.58 L190.51,291.48 L190.65,292.39 L190.80,293.30 L190.94,294.21 L191.09,295.11 L191.23,296.02 L191.38,296.93 L191.52,297.84 L191.66,298.74 L191.81,299.65 L191.95,300.56 L192.09,301.47 L192.24,302.37 L192.38,303.28 L192.52,304.19 L192.66,305.10 L192.80,306.01 L192.94,306.91 L193.08,307.82 L193.22,308.73 L193.36,309.64 L193.50,310.55 L193.65,311.45 L193.79,312.36 L193.93,313.27 L194.07,314.18 L194.21,315.08 L194.35,315.99 L194.50,316.90 L194.64,317.81 L194.78,318.72 L194.92,319.62 L195.06,320.53 L195.20,321.44 L195.35,322.35 L195.49,323.26 L195.63,324.16 L195.76,325.07 L195.90,325.98 L196.04,326.89 L196.18,327.80 L196.32,328.71 L196.45,329.61 L196.59,330.52 L196.73,331.43 L196.87,332.34 L197.00,333.25 L197.14,334.16 L197.28,335.07 L197.42,335.97 L197.56,336.88 L197.70,337.79 L197.84,338.70 L197.99,339.61 L198.13,340.51 L198.28,341.42 L198.42,342.33 L198.56,343.24 L198.71,344.14 L198.85,345.05 L198.99,345.96 L199.13,346.87 L199.26,347.78 L199.40,348.68 L199.53,349.59 L199.66,350.50 L199.79,351.41 L199.91,352.32 L200.04,353.23 L200.16,354.14 L200.28,355.06 L200.40,355.97 L200.52,356.88 L200.65,357.79 L200.77,358.70 L200.89,359.61 L201.01,360.52 L201.13,361.43 L201.25,362.34 L201.37,363.25 L201.49,364.16 L201.61,365.08 L201.73,365.99 L201.85,366.90 L201.97,367.81 L202.09,368.72 L202.21,369.63 L202.33,370.54 L202.45,371.45 L202.57,372.36 L202.70,373.27 L202.82,374.18 L202.94,375.09 L203.07,376.01 L203.19,376.92 L203.32,377.83 L203.44,378.74 L203.57,379.65 L203.69,380.56 L203.82,381.47 L203.94,382.38 L204.07,383.29 L204.19,384.20 L204.32,385.11 L204.44,386.02 L204.57,386.93 L204.69,387.84 L204.81,388.75 L204.94,389.66 L205.06,390.57 L205.18,391.48 L205.31,392.39 L205.43,393.30 L205.55,394.21 L205.67,395.12 L205.80,396.04 L205.92,396.95 L206.04,397.86 L206.16,398.77 L206.28,399.68 L206.40,400.59 L206.53,401.50 L206.65,402.41 L206.77,403.32 L206.89,404.23 L207.01,405.14 L207.13,406.05 L207.25,406.97 L207.37,407.88 L207.49,408.79 L207.61,409.70 L207.73,410.61 L207.85,411.52 L207.97,412.43 L208.09,413.34 L208.21,414.25 L208.33,415.16 L208.45,416.07 L208.57,416.99 L208.69,417.90 L208.81,418.81 L208.93,419.72 L209.05,420.63 L209.17,421.54 L209.29,422.45 L209.41,423.36 L209.53,424.27 L209.65,425.19 L209.77,426.10 L209.89,427.01 L210.00,427.92 L210.12,428.83 L210.24,429.74 L210.36,430.65 L210.47,431.56 L210.59,432.48 L210.71,433.39 L210.82,434.30 L210.94,435.21 L211.06,436.12 L211.17,437.03 L211.29,437.94 L211.41,438.86 L211.52,439.77 L211.64,440.68 L211.75,441.59 L211.87,442.50 L211.98,443.41 L212.10,444.32 L212.22,445.24 L212.33,446.15 L212.44,447.06 L212.56,447.97 L212.67,448.88 L212.79,449.80 L212.90,450.71 L213.01,451.62 L213.13,452.53 L213.24,453.44 L213.35,454.35 L213.47,455.27 L213.58,456.18 L213.69,457.09 L213.80,458.00 L213.92,458.91 L214.03,459.83 L214.14,460.74 L214.25,461.65 L214.36,462.56 L214.48,463.47 L214.59,464.39 L214.70,465.30 L214.81,466.21 L214.92,467.12 L215.04,468.03 L215.15,468.95 L215.26,469.86 L215.37,470.77 L215.47,471.68 L215.58,472.60 L215.69,473.51 L215.80,474.42 L215.90,475.33 L216.01,476.25 L216.11,477.16 L216.21,478.07 L216.32,478.99 L216.42,479.90 L216.53,480.81 L216.63,481.72 L216.74,482.64 L216.85,483.55 L216.95,484.46 L217.06,485.37 L217.17,486.29 L217.29,487.20 L217.40,488.11 L217.51,489.02 L217.62,489.93 L217.73,490.85 L217.85,491.76 L217.96,492.67 L218.07,493.58 L218.18,494.50 L218.28,495.41 L218.39,496.32 L218.50,497.23 L218.60,498.15 L218.70,499.06 L218.80,499.97 L218.90,500.89 L219.00,501.80" fill="none" stroke="#00f" stroke-width="2.9" stroke-linecap="round" stroke-dasharray="0.9 11.53" stroke-dashoffset="-0.95"/>
<text transform="translate(97.90,535.70) scale(1,1.0)" font-size="22.7" text-anchor="middle" stroke="#000" stroke-width="0.35">0</text>
<text transform="translate(162.52,535.70) scale(1,1.0)" font-size="22.7" text-anchor="middle" stroke="#000" stroke-width="0.35">1</text>
<text transform="translate(227.14,535.70) scale(1,1.0)" font-size="22.7" text-anchor="middle" stroke="#000" stroke-width="0.35">2</text>
<text transform="translate(291.76,535.70) scale(1,1.0)" font-size="22.7" text-anchor="middle" stroke="#000" stroke-width="0.35">3</text>
<text transform="translate(356.38,535.70) scale(1,1.0)" font-size="22.7" text-anchor="middle" stroke="#000" stroke-width="0.35">4</text>
<text transform="translate(421.00,535.70) scale(1,1.0)" font-size="22.7" text-anchor="middle" stroke="#000" stroke-width="0.35">5</text>
<text transform="translate(485.62,535.70) scale(1,1.0)" font-size="22.7" text-anchor="middle" stroke="#000" stroke-width="0.35">6</text>
<text transform="translate(550.24,535.70) scale(1,1.0)" font-size="22.7" text-anchor="middle" stroke="#000" stroke-width="0.35">7</text>
<text transform="translate(614.86,535.70) scale(1,1.0)" font-size="22.7" text-anchor="middle" stroke="#000" stroke-width="0.35">8</text>
<text transform="translate(679.48,535.70) scale(1,1.0)" font-size="22.7" text-anchor="middle" stroke="#000" stroke-width="0.35">9</text>
<text transform="translate(744.10,535.70) scale(1,1.0)" font-size="22.7" text-anchor="middle" stroke="#000" stroke-width="0.35">10</text>
<text transform="translate(82.00,510.00) scale(1,1.0)" font-size="22.7" text-anchor="end" stroke="#000" stroke-width="0.35">10<tspan font-size="13.5" dy="-10.8">-1</tspan></text>
<text transform="translate(754.20,510.00) scale(1,1.0)" font-size="22.7" text-anchor="start" stroke="#000" stroke-width="0.35">10<tspan font-size="13.5" dy="-10.8">-1</tspan></text>
<text transform="translate(82.00,441.21) scale(1,1.0)" font-size="22.7" text-anchor="end" stroke="#000" stroke-width="0.35">10<tspan font-size="13.5" dy="-10.8">0</tspan></text>
<text transform="translate(754.20,441.21) scale(1,1.0)" font-size="22.7" text-anchor="start" stroke="#000" stroke-width="0.35">10<tspan font-size="13.5" dy="-10.8">0</tspan></text>
<text transform="translate(82.00,372.43) scale(1,1.0)" font-size="22.7" text-anchor="end" stroke="#000" stroke-width="0.35">10<tspan font-size="13.5" dy="-10.8">1</tspan></text>
<text transform="translate(754.20,372.43) scale(1,1.0)" font-size="22.7" text-anchor="start" stroke="#000" stroke-width="0.35">10<tspan font-size="13.5" dy="-10.8">1</tspan></text>
<text transform="translate(82.00,303.64) scale(1,1.0)" font-size="22.7" text-anchor="end" stroke="#000" stroke-width="0.35">10<tspan font-size="13.5" dy="-10.8">2</tspan></text>
<text transform="translate(754.20,303.64) scale(1,1.0)" font-size="22.7" text-anchor="start" stroke="#000" stroke-width="0.35">10<tspan font-size="13.5" dy="-10.8">2</tspan></text>
<text transform="translate(82.00,234.86) scale(1,1.0)" font-size="22.7" text-anchor="end" stroke="#000" stroke-width="0.35">10<tspan font-size="13.5" dy="-10.8">3</tspan></text>
<text transform="translate(754.20,234.86) scale(1,1.0)" font-size="22.7" text-anchor="start" stroke="#000" stroke-width="0.35">10<tspan font-size="13.5" dy="-10.8">3</tspan></text>
<text transform="translate(82.00,166.07) scale(1,1.0)" font-size="22.7" text-anchor="end" stroke="#000" stroke-width="0.35">10<tspan font-size="13.5" dy="-10.8">4</tspan></text>
<text transform="translate(754.20,166.07) scale(1,1.0)" font-size="22.7" text-anchor="start" stroke="#000" stroke-width="0.35">10<tspan font-size="13.5" dy="-10.8">4</tspan></text>
<text transform="translate(82.00,97.29) scale(1,1.0)" font-size="22.7" text-anchor="end" stroke="#000" stroke-width="0.35">10<tspan font-size="13.5" dy="-10.8">5</tspan></text>
<text transform="translate(754.20,97.29) scale(1,1.0)" font-size="22.7" text-anchor="start" stroke="#000" stroke-width="0.35">10<tspan font-size="13.5" dy="-10.8">5</tspan></text>
<text transform="translate(82.00,28.50) scale(1,1.0)" font-size="22.7" text-anchor="end" stroke="#000" stroke-width="0.35">10<tspan font-size="13.5" dy="-10.8">6</tspan></text>
<text transform="translate(754.20,28.50) scale(1,1.0)" font-size="22.7" text-anchor="start" stroke="#000" stroke-width="0.35">10<tspan font-size="13.5" dy="-10.8">6</tspan></text>
<text transform="translate(239.30,569.70) scale(1,0.95)" font-size="24.65" text-anchor="start" stroke="#000" stroke-width="0.35">Distance to center of sphere [µm]</text>
<text transform="translate(24.65,349.80) rotate(-90) scale(1,1.0)" font-size="24.6" text-anchor="start" stroke="#000" stroke-width="0.35">Electric field [V/cm]</text>
<text transform="translate(821.25,391.30) rotate(-90) scale(1,1.01)" font-size="24.6" text-anchor="start" stroke="#000" stroke-width="0.35">Ionization rate [1/cm]</text>
<rect x="402.0" y="47.7" width="318.7" height="95.7" fill="#fff" stroke="#000" stroke-width="1.15"/>
<path d="M408.0,65.1 H458.7" stroke="#000" stroke-width="2.8" stroke-linecap="round" fill="none"/>
<path d="M407.55,97.1 H459.6" stroke="#f00" stroke-width="2.7" stroke-linecap="round" stroke-dasharray="8.5 12.5" fill="none"/>
<path d="M407.65,125.0 H459.6" stroke="#00f" stroke-width="2.9" stroke-linecap="round" stroke-dasharray="0.9 11.5" fill="none"/>
<text transform="translate(464.80,72.20) scale(1,0.97)" font-size="22.7" text-anchor="start" stroke="#000" stroke-width="0.35">Electric field S06</text>
<text transform="translate(464.80,104.80) scale(1,0.97)" font-size="22.7" text-anchor="start" stroke="#000" stroke-width="0.35">Ionization rate electrons</text>
<text transform="translate(464.80,131.80) scale(1,0.97)" font-size="22.7" text-anchor="start" stroke="#000" stroke-width="0.35">Ionization rate holes</text>
</svg></body></html>
